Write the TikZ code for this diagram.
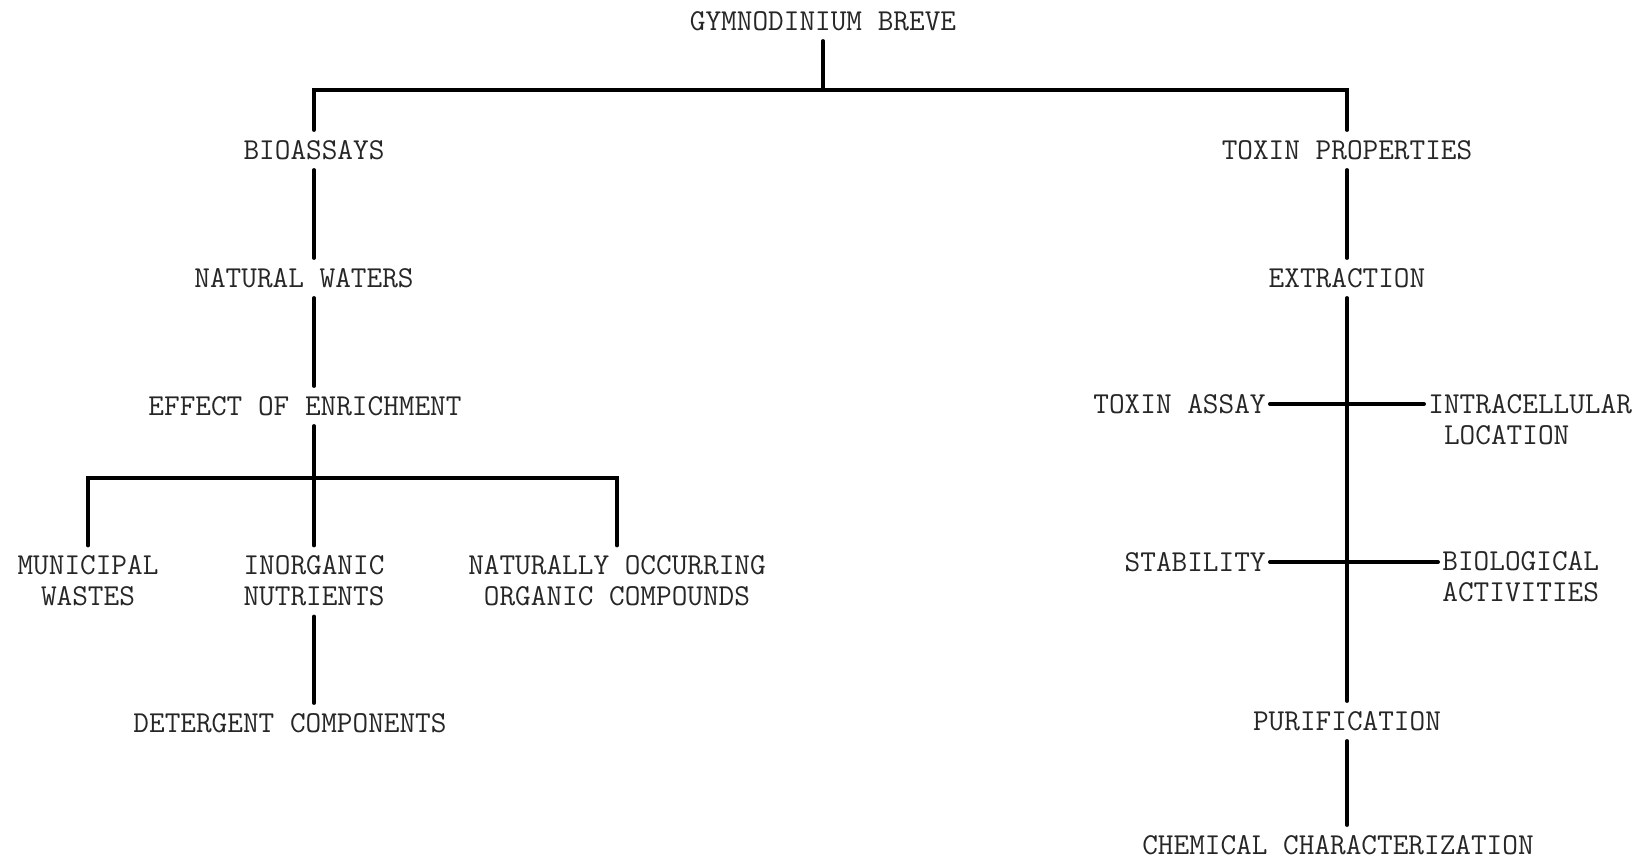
\documentclass[tikz,border=0pt]{standalone}
\usepackage{fontspec}
\usepackage{tikz}
\usepackage{xcolor}

\begin{document}
\begin{tikzpicture}[x=0.5pt,y=-0.5pt,
  lbl/.style={font=\fontsize{15.2}{15.5}\selectfont\ttfamily, text=black!85, inner xsep=2pt, inner ysep=5pt, align=center},
  conn/.style={line width=2pt, line cap=round}]
\useasboundingbox (0,0) rectangle (1640,861);

% Root
\node[lbl] (root) at (823,21) {GYMNODINIUM BREVE};
\coordinate (topbar) at (823,90);

% Left branch
\node[lbl] (bio) at (314,150) {BIOASSAYS};
\node[lbl] (natw) at (304,278) {NATURAL WATERS};
\node[lbl] (enrich) at (305,406) {EFFECT OF ENRICHMENT};
\coordinate (bracket) at (314,478);
\node[lbl] (muni) at (88,581) {MUNICIPAL\\WASTES};
\node[lbl] (inorg) at (314,581) {INORGANIC\\NUTRIENTS};
\node[lbl] (organic) at (617,581) {NATURALLY OCCURRING\\ORGANIC COMPOUNDS};
\node[lbl] (deterg) at (290,723) {DETERGENT COMPONENTS};

% Right branch
\node[lbl] (toxprop) at (1347,150) {TOXIN PROPERTIES};
\node[lbl] (extr) at (1347,278) {EXTRACTION};
\node[lbl, anchor=east] (assay) at (1270,404) {TOXIN ASSAY};
\node[lbl, anchor=west, align=left] (intra) at (1424,420) {INTRACELLULAR\\\phantom{I}LOCATION};
\node[lbl, anchor=east] (stab) at (1270,562) {STABILITY};
\node[lbl, anchor=west, align=left] (bioact) at (1438,577) {BIOLOGICAL\\ACTIVITIES};
\node[lbl] (purif) at (1347,721) {PURIFICATION};
\node[lbl] (chem) at (1338,845) {CHEMICAL CHARACTERIZATION};

% Connectors
\draw[conn] (root) -- (topbar);
\draw[conn] (bio.north) |- (topbar) -| (toxprop.north);
\draw[conn] (bio.south) -- (bio.south |- natw.north);
\draw[conn] (bio.south |- natw.south) -- (bio.south |- enrich.north);
\draw[conn] (inorg.north |- enrich.south) -- (inorg.north);
\draw[conn] (muni.north) |- (bracket) -| (organic.north);
\draw[conn] (inorg.south) -- (deterg.north -| inorg.south);

\draw[conn] (toxprop) -- (extr);
\draw[conn] (extr) -- (purif);
\draw[conn] (assay.east) -- (assay.east -| intra.west);
\draw[conn] (stab.east) -- (stab.east -| bioact.west);
\draw[conn] (purif.south) -- (chem.north -| purif.south);
\end{tikzpicture}
\end{document}
